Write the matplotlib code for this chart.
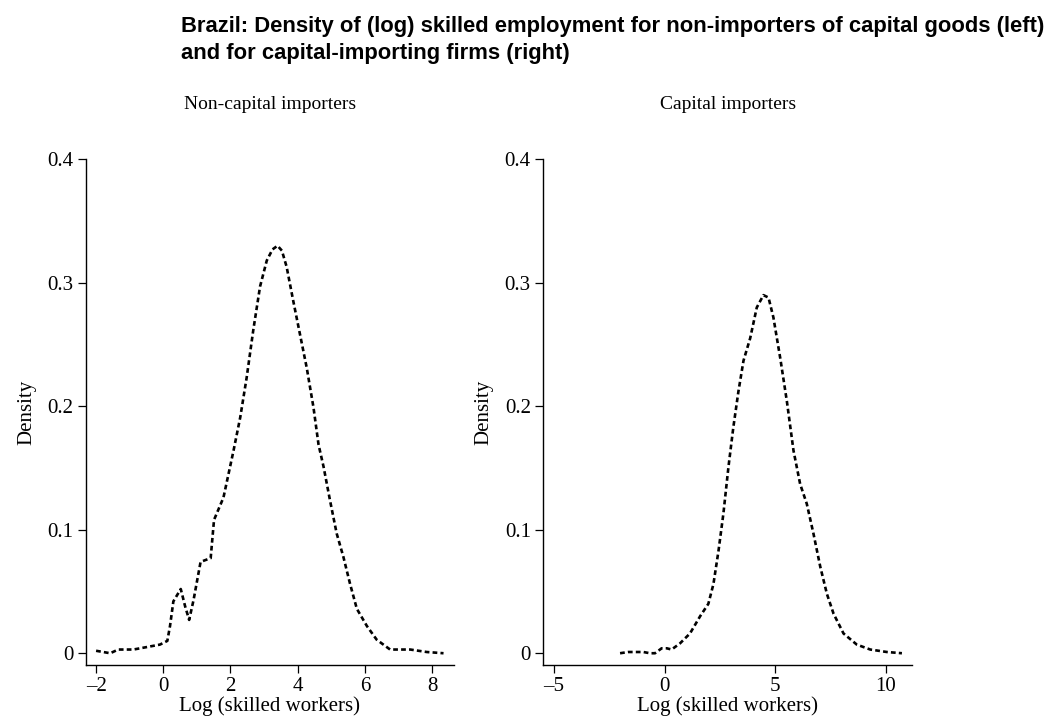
import matplotlib
matplotlib.use("Agg")
import matplotlib.pyplot as plt

# left panel: non-capital importers (density curve)
left_x = [-2.0, -1.58, -1.34, -0.89, -0.49, -0.10, 0.12, 0.20, 0.30, 0.52, 0.65, 0.77,
          0.90, 1.11, 1.41, 1.51, 1.79, 2.09, 2.29, 2.48, 2.68, 2.88, 3.08, 3.25, 3.40,
          3.53, 3.67, 3.87, 4.07, 4.27, 4.47, 4.62, 4.77, 4.96, 5.16, 5.36, 5.56, 5.76,
          6.06, 6.35, 6.75, 7.05, 7.35, 7.84, 8.34]
left_y = [0.002, 0.0, 0.003, 0.003, 0.005, 0.007, 0.010, 0.022, 0.042, 0.052, 0.038, 0.027,
          0.043, 0.074, 0.077, 0.108, 0.126, 0.164, 0.191, 0.223, 0.262, 0.297, 0.318, 0.327, 0.330,
          0.326, 0.313, 0.285, 0.258, 0.231, 0.199, 0.169, 0.151, 0.124, 0.097, 0.078, 0.056, 0.036,
          0.022, 0.011, 0.003, 0.003, 0.003, 0.001, 0.0]

# right panel: capital importers
right_x = [-2.01, -1.64, -0.96, -0.66, -0.43, -0.13, 0.10, 0.32, 0.70, 1.15, 1.61, 1.98,
           2.21, 2.44, 2.66, 2.89, 3.11, 3.34, 3.57, 3.87, 4.17, 4.47, 4.70, 4.92, 5.23,
           5.53, 5.83, 6.13, 6.43, 6.73, 7.04, 7.34, 7.64, 8.09, 8.69, 9.30, 10.05, 10.73]
right_y = [0.0, 0.001, 0.001, 0.0, 0.0, 0.004, 0.004, 0.003, 0.008, 0.016, 0.030, 0.040,
           0.056, 0.083, 0.113, 0.151, 0.183, 0.212, 0.237, 0.255, 0.280, 0.290, 0.288, 0.272, 0.239,
           0.204, 0.164, 0.137, 0.121, 0.097, 0.070, 0.048, 0.032, 0.016, 0.007, 0.003, 0.001, 0.0]

left_ticks = [-2, 0, 2, 4, 6, 8]
right_ticks = [-5, 0, 5, 10]
y_ticks = [0, 0.1, 0.2, 0.3, 0.4]
y_labels = ["0", "0.1", "0.2", "0.3", "0.4"]

title = ("Brazil: Density of (log) skilled employment for non-importers of capital goods (left)\n"
         "and for capital-importing firms (right)")

serif = "Liberation Serif"
fs = 15

fig = plt.figure(figsize=(10.46, 7.25), dpi=100)

panels = [
    ([0.0819, 0.0828, 0.3524, 0.6975], left_x, left_y, left_ticks, (-2.31, 8.66), "Non-capital importers"),
    ([0.5194, 0.0828, 0.3528, 0.6975], right_x, right_y, right_ticks, (-5.48, 11.2), "Capital importers"),
]

for rect, xs, ys, xt, xlim, sub in panels:
    ax = fig.add_axes(rect)
    ax.plot(xs, ys, color="black", lw=1.9, linestyle=(0, (1.8, 1.2)))
    ax.set_xlim(*xlim)
    ax.set_ylim(-0.0095, 0.4)
    ax.set_xticks(xt)
    ax.set_xticklabels([str(t).replace("-", "\u2013") for t in xt], fontfamily=serif, fontsize=fs)
    ax.set_yticks(y_ticks)
    ax.set_yticklabels(y_labels, fontfamily=serif, fontsize=fs)
    ax.tick_params(direction="out", length=6, width=0.9, pad=3)
    ax.spines["top"].set_visible(False)
    ax.spines["right"].set_visible(False)
    ax.spines["left"].set_linewidth(1.0)
    ax.spines["bottom"].set_linewidth(1.0)
    ax.set_xlabel("Log (skilled workers)", fontfamily=serif, fontsize=fs, labelpad=0)
    ax.set_ylabel("Density", fontfamily=serif, fontsize=fs, labelpad=8)
    ax.set_title(sub, fontfamily=serif, fontsize=14, pad=36)

fig.text(0.173, 0.978, title, fontfamily="Liberation Sans", fontweight="bold",
         fontsize=15.8, ha="left", va="top", linespacing=1.35)

fig.savefig("out.png", dpi=100)
